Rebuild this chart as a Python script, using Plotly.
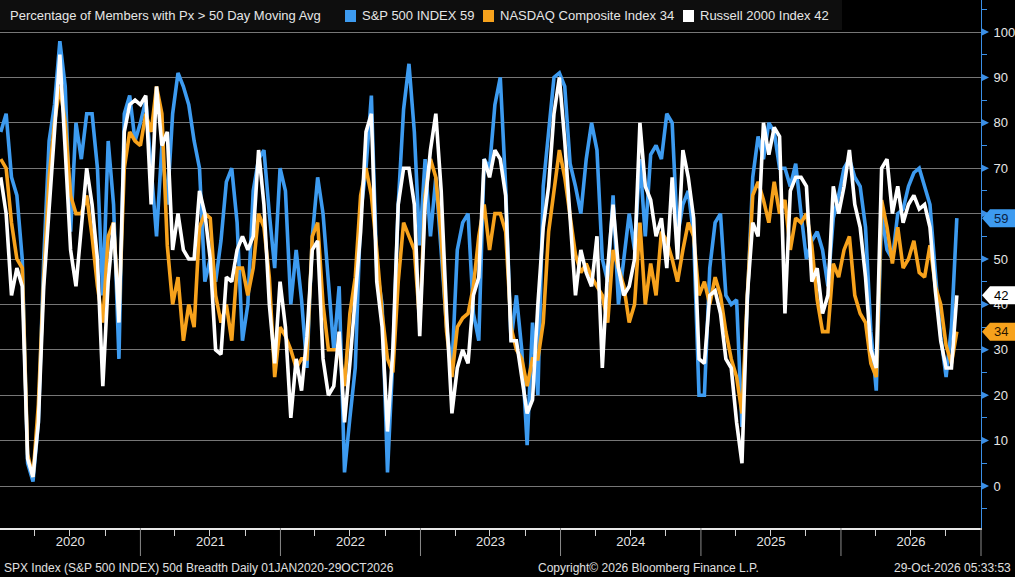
import plotly.graph_objects as go
import pandas as pd

# ---------------- data (~2-week spacing) ----------------
start_date = "2020-01-03"
step = "14D"

spx = [78, 82, 68, 64, 50, 5, 1, 14, 50, 76, 84,
       98, 88, 56, 80, 72, 82, 82, 70, 42, 76,
       62, 28, 82, 86, 76, 80, 85, 70, 55, 75,
       62, 82, 91, 88, 84, 76, 70, 45, 50, 45,
       54, 67, 70, 58, 32, 40, 65, 72, 74, 60,
       48, 70, 65, 40, 52, 41, 26, 55, 68, 60,
       45, 30, 44, 3, 15, 26, 60, 70, 86, 48,
       40, 3, 28, 62, 83, 93, 78, 53, 72, 55,
       68, 52, 35, 26, 52, 58, 60, 38, 32, 72,
       70, 84, 90, 66, 32, 42, 30, 9, 36, 20,
       66, 78, 90, 91, 88, 71, 66, 60, 72, 80,
       74, 50, 45, 64, 40, 50, 60, 52, 72, 55,
       73, 75, 72, 82, 80, 55, 62, 65, 55, 20,
       20, 48, 58, 60, 42, 40, 41, 13, 42, 68,
       77, 72, 80, 78, 70, 70, 66, 71, 60, 50,
       54, 56, 52, 44, 59, 64, 70, 72, 68, 66,
       57, 34, 21, 60, 52, 50, 60, 61, 66, 69,
       70, 66, 62, 47, 33, 24, 35, 59]

ccmp = [72, 70, 58, 50, 48, 7, 2, 18, 46, 68, 80,
        88, 80, 64, 60, 60, 64, 55, 44, 36, 55,
        58, 38, 70, 78, 76, 75, 82, 78, 88, 82,
        53, 40, 46, 32, 40, 35, 57, 60, 59, 42,
        36, 40, 32, 48, 48, 42, 48, 60, 57, 46,
        24, 35, 33, 30, 26, 28, 28, 55, 58, 40,
        30, 30, 30, 22, 38, 46, 64, 70, 64, 52,
        38, 28, 25, 45, 58, 55, 52, 36, 64, 72,
        68, 55, 34, 24, 35, 37, 38, 44, 55, 62,
        52, 60, 60, 56, 35, 30, 28, 22, 28, 28,
        36, 56, 65, 74, 68, 60, 51, 47, 49, 46,
        44, 42, 36, 52, 48, 44, 36, 40, 58, 40,
        49, 42, 56, 54, 50, 45, 52, 58, 55, 42,
        45, 40, 46, 42, 34, 28, 24, 16, 42, 64,
        67, 63, 58, 67, 60, 63, 52, 59, 58, 60,
        53, 41, 34, 34, 49, 46, 52, 55, 42, 38,
        36, 27, 24, 63, 57, 49, 57, 48, 50, 54,
        47, 46, 53, 44, 40, 31, 27, 34]

rty = [68, 60, 42, 48, 44, 6, 2, 14, 44, 62, 80,
       95, 74, 52, 44, 56, 70, 62, 50, 22, 45,
       58, 36, 78, 84, 85, 84, 86, 62, 88, 75,
       78, 52, 60, 52, 50, 50, 65, 60, 50, 30,
       29, 46, 45, 52, 55, 52, 55, 74, 62, 40,
       27, 45, 35, 15, 28, 21, 33, 52, 54, 28,
       20, 22, 34, 14, 27, 42, 56, 78, 82, 45,
       35, 12, 30, 62, 70, 70, 62, 33, 62, 74,
       82, 65, 38, 16, 26, 30, 27, 42, 46, 72,
       68, 74, 72, 64, 32, 32, 24, 16, 19, 40,
       57, 66, 82, 90, 76, 58, 42, 52, 47, 44,
       55, 26, 48, 62, 48, 42, 44, 50, 80, 66,
       63, 55, 59, 48, 68, 50, 74, 68, 59, 28,
       27, 42, 43, 38, 28, 26, 14, 5, 42, 58,
       55, 80, 73, 79, 77, 38, 65, 68, 68, 66,
       45, 48, 38, 42, 66, 60, 66, 74, 62, 57,
       46, 30, 26, 70, 72, 60, 66, 58, 62, 64,
       61, 62, 57, 43, 32, 26, 26, 42]

series_names = ["S&P 500 INDEX", "NASDAQ Composite Index", "Russell 2000 Index"]
series_values = [spx, ccmp, rty]
last_values = [59, 34, 42]
y_ticks = list(range(0, 101, 10))
y_tick_text = ["0", "10", "20", "30", "40", "50", "", "70", "80", "90", "100"]  # 60 is hidden under the 59 label
year_labels = [2020, 2021, 2022, 2023, 2024, 2025, 2026]

title_text = "Percentage of Members with Px > 50 Day Moving Avg"
footer_left = "SPX Index (S&P 500 INDEX) 50d Breadth Daily 01JAN2020-29OCT2026"
footer_mid = "Copyright\u00a9 2026 Bloomberg Finance L.P."
footer_right = "29-Oct-2026 05:33:53"

# ---------------- styling ----------------
colors = ["#3d9bf0", "#f7a21c", "#ffffff"]
label_text_colors = ["#0b1f44", "#2a1600", "#000000"]
axis_blue = "#3b8fe6"
FONT = "Liberation Sans, Arial, sans-serif"
W, H = 1015, 577
ML, MR, MT, MB = 0, 34, 0, 49
PW, PH = W - ML - MR, H - MT - MB
YMIN, YMAX = -9.25, 107.05
X0, X1 = pd.Timestamp("2020-01-01"), pd.Timestamp("2027-01-01")

def px_x(px):
    return px / PW

def px_y(py):
    return 1 - py / PH

def val_y(v):
    return (v - YMIN) / (YMAX - YMIN)

dates = pd.date_range(start_date, periods=len(spx), freq=step)

fig = go.Figure()
for name, vals, col in zip(series_names, series_values, colors):
    fig.add_trace(go.Scatter(x=dates, y=vals, mode="lines", name=name,
                             line=dict(color=col, width=3.6), showlegend=False,
                             hoverinfo="skip"))

shapes = []
annotations = []

# legend box
shapes.append(dict(type="rect", xref="paper", yref="paper", x0=px_x(0), x1=px_x(842),
                   y0=px_y(30), y1=px_y(0), fillcolor="#0e0e0e", line=dict(width=0), layer="above"))
annotations.append(dict(text=title_text, xref="paper", yref="paper", x=px_x(8), y=px_y(16),
                        xanchor="left", yanchor="middle", showarrow=False,
                        font=dict(family=FONT, size=13, color="#e6e6e6")))
leg_sq_x = [345, 483, 683]
for sx, name, col, lv in zip(leg_sq_x, series_names, colors, last_values):
    shapes.append(dict(type="rect", xref="paper", yref="paper", x0=px_x(sx), x1=px_x(sx + 11),
                       y0=px_y(22), y1=px_y(10), fillcolor=col, line=dict(width=0), layer="above"))
    annotations.append(dict(text=f"{name} {lv}", xref="paper", yref="paper", x=px_x(sx + 15), y=px_y(16),
                            xanchor="left", yanchor="middle", showarrow=False,
                            font=dict(family=FONT, size=13, color="#e6e6e6")))

# right axis arrow ticks
for v in y_ticks:
    yc = val_y(v)
    d = 3.5 / PH
    x_a, x_b = 1 + px_x(1), 1 + px_x(8)
    shapes.append(dict(type="path", xref="paper", yref="paper",
                       path=f"M {x_a},{yc + d} L {x_b},{yc} L {x_a},{yc - d} Z",
                       fillcolor=axis_blue, line=dict(width=0), layer="above"))

# year separators on x axis
for yr in year_labels[1:] + [year_labels[-1] + 1]:
    xp = (pd.Timestamp(f"{yr}-01-01") - X0) / (X1 - X0)
    shapes.append(dict(type="line", xref="paper", yref="paper", x0=xp, x1=xp,
                       y0=0, y1=px_y(PH + 28), line=dict(color="#8a8a8a", width=1), layer="above"))

# last value labels
for lv, col, tcol in zip(last_values, colors, label_text_colors):
    yc = val_y(lv)
    d = 9 / PH
    xa, xb, xc = 1 + px_x(1), 1 + px_x(9), 1 + px_x(40)
    shapes.append(dict(type="path", xref="paper", yref="paper",
                       path=f"M {xa},{yc} L {xb},{yc + d} L {xc},{yc + d} L {xc},{yc - d} L {xb},{yc - d} Z",
                       fillcolor=col, line=dict(width=0), layer="above"))
    annotations.append(dict(text=str(lv), xref="paper", yref="paper", x=1 + px_x(11), y=yc,
                            xanchor="left", yanchor="middle", showarrow=False,
                            font=dict(family=FONT, size=13, color=tcol)))

# footer
annotations.append(dict(text=footer_left, xref="paper", yref="paper", x=px_x(2), y=px_y(568),
                        xanchor="left", yanchor="middle", showarrow=False,
                        font=dict(family=FONT, size=12, color="#e0e0e0")))
annotations.append(dict(text=footer_mid, xref="paper", yref="paper", x=px_x(648), y=px_y(568),
                        xanchor="center", yanchor="middle", showarrow=False,
                        font=dict(family=FONT, size=12, color="#e0e0e0")))
annotations.append(dict(text=footer_right, xref="paper", yref="paper", x=px_x(1013), y=px_y(568),
                        xanchor="right", yanchor="middle", showarrow=False,
                        font=dict(family=FONT, size=12, color="#e0e0e0")))

fig.update_layout(
    width=W, height=H,
    margin=dict(l=ML, r=MR, t=MT, b=MB, pad=0),
    paper_bgcolor="#000000", plot_bgcolor="#000000",
    showlegend=False,
    shapes=shapes, annotations=annotations,
    xaxis=dict(type="date", range=[X0, X1], dtick="M12", tick0="2020-01-01",
               tickformat="%Y", ticklabelmode="period", ticks="",
               showgrid=False, zeroline=False, showline=True, linecolor="#e8e8e8", linewidth=2,
               tickfont=dict(family=FONT, size=13, color="#e6e6e6"),
               minor=dict(dtick="M3", tick0="2020-01-01", ticks="outside", ticklen=6,
                          tickcolor="#d0d0d0", tickwidth=1, showgrid=False)),
    yaxis=dict(side="right", range=[YMIN, YMAX], tickvals=y_ticks, ticktext=y_tick_text,
               ticks="outside", ticklen=9,
               tickcolor="rgba(0,0,0,0)", showgrid=True, gridcolor="#767676", gridwidth=1,
               zeroline=False, showline=True, linecolor=axis_blue, linewidth=1,
               tickfont=dict(family=FONT, size=13, color="#e6e6e6"),
               minor=dict(tickvals=[v + 5 for v in [-10] + y_ticks], ticks="outside", ticklen=5,
                          tickcolor=axis_blue, showgrid=False)),
)

fig.write_html("out.html", config={"displayModeBar": False})
